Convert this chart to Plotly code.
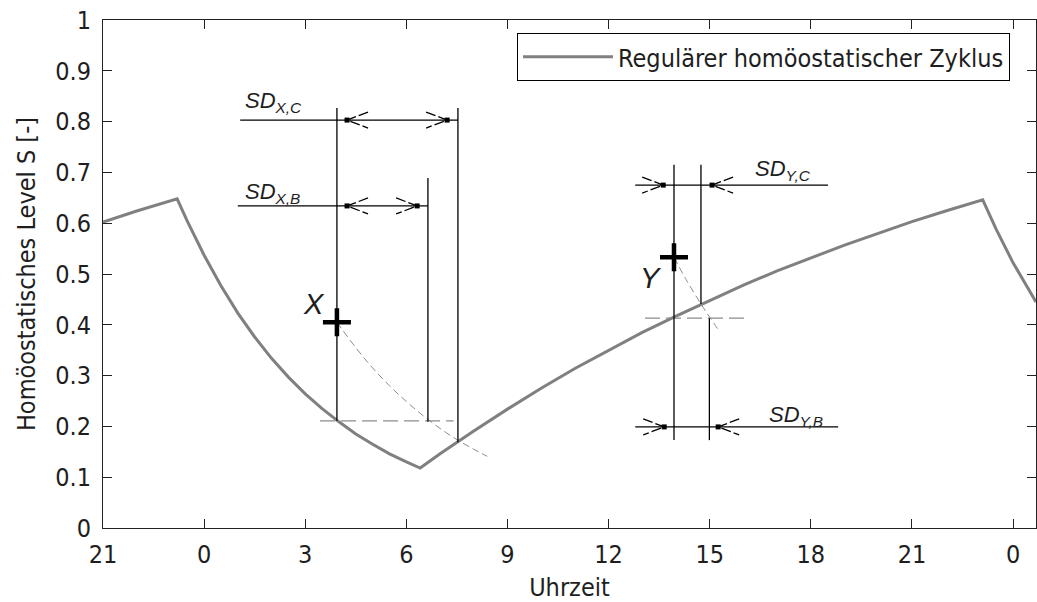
import plotly.graph_objects as go

# ---------------- data (hours: 24 = midnight, 48 = next midnight) ----------------
# regular homeostatic cycle, split into its wake / sleep phases
wake1_t = [21.0, 22.0, 23.2]
wake1_s = [0.602, 0.624, 0.648]
sleep1_t = [23.2, 23.5, 24.0, 24.5, 25.0, 25.5, 26.0, 26.5, 27.0, 27.5, 28.0, 28.5, 29.0, 29.5, 30.0, 30.41]
sleep1_s = [0.648, 0.604, 0.537, 0.477, 0.423, 0.376, 0.334, 0.297, 0.264, 0.235, 0.209, 0.185, 0.165, 0.146, 0.130, 0.118]
wake2_t = [30.41, 31.0, 32.0, 33.0, 34.0, 35.0, 36.0, 37.0, 38.0, 39.0, 40.0, 41.0, 42.0, 43.0, 44.0, 45.0, 46.0, 47.1]
wake2_s = [0.118, 0.146, 0.191, 0.234, 0.275, 0.314, 0.350, 0.385, 0.417, 0.448, 0.478, 0.506, 0.532, 0.557, 0.580, 0.603, 0.624, 0.646]
sleep2_t = [47.1, 47.5, 48.0, 48.68]
sleep2_s = [0.646, 0.588, 0.522, 0.445]

tick_vals = [21, 24, 27, 30, 33, 36, 39, 42, 45, 48]
tick_text = ["21", "0", "3", "6", "9", "12", "15", "18", "21", "0"]
y_ticks = [0, 0.1, 0.2, 0.3, 0.4, 0.5, 0.6, 0.7, 0.8, 0.9, 1]
y_tick_text = ["0", "0.1", "0.2", "0.3", "0.4", "0.5", "0.6", "0.7", "0.8", "0.9", "1"]

# marked states X and Y
pts_t = [27.94, 37.94]
pts_s = [0.405, 0.533]
pts_lbl = ["X", "Y"]
lbl_t = [27.26, 37.26]
lbl_s = [0.441, 0.492]

# dashed continuation curves (decay from X and from Y)
dashX_t = [27.94, 28.5, 29.0, 29.5, 30.0, 30.5, 31.0, 31.5, 32.0, 32.4]
dashX_s = [0.405, 0.355, 0.315, 0.280, 0.249, 0.221, 0.196, 0.174, 0.155, 0.141]
dashY_t = [37.94, 38.3, 38.74, 39.02, 39.3]
dashY_s = [0.533, 0.489, 0.441, 0.413, 0.386]

# dashed horizontal reference levels: (t0, t1, s)
dash_h_t0 = [27.44, 37.08]
dash_h_t1 = [31.40, 40.14]
dash_h_s = [0.211, 0.413]

# vertical marker lines: (t, s0, s1)
v_t = [27.94, 30.64, 31.53, 37.94, 38.74, 38.99]
v_s0 = [0.211, 0.209, 0.169, 0.173, 0.441, 0.173]
v_s1 = [0.827, 0.689, 0.827, 0.715, 0.715, 0.413]

# horizontal dimension lines: (t0, t1, s)
h_t0 = [25.07, 25.00, 36.79, 36.79]
h_t1 = [31.53, 30.64, 42.51, 42.81]
h_s = [0.803, 0.634, 0.675, 0.199]

# arrow tips: (t, s, direction: -1 points left, +1 points right)
arr_t = [28.24, 31.21, 28.24, 30.32, 37.62, 39.07, 37.65, 39.25]
arr_s = [0.803, 0.803, 0.634, 0.634, 0.675, 0.675, 0.199, 0.199]
arr_d = [-1, 1, -1, 1, 1, -1, 1, -1]

# SD labels
sd_text = ["SD<sub>X,C</sub>", "SD<sub>X,B</sub>", "SD<sub>Y,C</sub>", "SD<sub>Y,B</sub>"]
sd_t = [25.15, 25.15, 40.29, 40.70]
sd_s = [0.838, 0.660, 0.704, 0.221]

legend_name = "Regulärer homöostatischer Zyklus"

# ---------------- layout geometry ----------------
W, H = 1037, 602
ML, MR, MT, MB = 103, 1, 20, 74
x_range = [21, 48.68]
y_range = [0, 1]
pw = W - ML - MR
ph = H - MT - MB
hx = (x_range[1] - x_range[0]) / pw   # hours per pixel
hy = (y_range[1] - y_range[0]) / ph   # S per pixel

NARROW = "Liberation Sans Narrow, Arial Narrow, DejaVu Sans Condensed, sans-serif"
ARIAL = "Liberation Sans, Arial, sans-serif"
TXT = "#1e1e1e"

fig = go.Figure()

# main curve (phases joined at their turning points)
cx = wake1_t + sleep1_t[1:] + wake2_t[1:] + sleep2_t[1:]
cy = wake1_s + sleep1_s[1:] + wake2_s[1:] + sleep2_s[1:]
fig.add_trace(go.Scatter(x=cx, y=cy, mode="lines", name=legend_name,
                         line=dict(color="#808080", width=3), showlegend=True))

# dashed reference levels
hx_, hy_ = [], []
for a, b, s in zip(dash_h_t0, dash_h_t1, dash_h_s):
    hx_ += [a, b, None]
    hy_ += [s, s, None]
fig.add_trace(go.Scatter(x=hx_, y=hy_, mode="lines", showlegend=False,
                         line=dict(color="#8c8c8c", width=1.3, dash="15px,6px")))

# dashed decay continuations
for tt, ss in [(dashX_t, dashX_s), (dashY_t, dashY_s)]:
    fig.add_trace(go.Scatter(x=tt, y=ss, mode="lines", showlegend=False,
                             line=dict(color="#8c8c8c", width=1, dash="7px,4px",
                                       shape="spline")))

# vertical lines
vx, vy = [], []
for t, a, b in zip(v_t, v_s0, v_s1):
    vx += [t, t, None]
    vy += [a, b, None]
fig.add_trace(go.Scatter(x=vx, y=vy, mode="lines", showlegend=False,
                         line=dict(color="black", width=1.3)))

# horizontal dimension lines
hhx, hhy = [], []
for a, b, s in zip(h_t0, h_t1, h_s):
    hhx += [a, b, None]
    hhy += [s, s, None]
fig.add_trace(go.Scatter(x=hhx, y=hhy, mode="lines", showlegend=False,
                         line=dict(color="black", width=1.3)))

# arrow heads (open chevrons) + tip dots
ax_, ay_ = [], []
back_px, half_px = 21, 8
for t, s, d in zip(arr_t, arr_s, arr_d):
    tb = t - d * back_px * hx
    ax_ += [tb, t, tb, None]
    ay_ += [s + half_px * hy, s, s - half_px * hy, None]
fig.add_trace(go.Scatter(x=ax_, y=ay_, mode="lines", showlegend=False,
                         line=dict(color="black", width=1.3, dash="10px,3px")))
fig.add_trace(go.Scatter(x=arr_t, y=arr_s, mode="markers", showlegend=False,
                         marker=dict(symbol="square", size=5, color="black")))

# X / Y points
fig.add_trace(go.Scatter(x=pts_t, y=pts_s, mode="markers", showlegend=False,
                         marker=dict(symbol="cross-thin", size=20,
                                     line=dict(color="black", width=4.5))))

for txt, t, s in zip(pts_lbl, lbl_t, lbl_s):
    fig.add_annotation(x=t, y=s, xref="x", yref="y", text="<i>" + txt + "</i>",
                       showarrow=False, font=dict(family=ARIAL, size=29, color=TXT),
                       xanchor="center", yanchor="middle")

for txt, t, s in zip(sd_text, sd_t, sd_s):
    fig.add_annotation(x=t, y=s, xref="x", yref="y", text="<i>" + txt + "</i>",
                       showarrow=False, font=dict(family=ARIAL, size=22, color=TXT),
                       xanchor="left", yanchor="middle")

fig.update_layout(
    width=W, height=H,
    margin=dict(l=ML, r=MR, t=MT, b=MB, pad=0),
    paper_bgcolor="white", plot_bgcolor="white",
    font=dict(family=NARROW, size=25, color=TXT),
    showlegend=True,
    legend=dict(x=(517 - ML) / pw, y=(H - MB - 33) / ph, xanchor="left", yanchor="top",
                bgcolor="white", bordercolor="black", borderwidth=1,
                font=dict(family=NARROW, size=25, color=TXT),
                itemwidth=90, tracegroupgap=0),
    xaxis=dict(range=x_range, tickmode="array", tickvals=tick_vals, ticktext=tick_text,
               showgrid=False, zeroline=False, showline=True, linecolor="#222", linewidth=1,
               mirror="ticks", ticks="inside", ticklen=9, tickcolor="#222",
               ticklabelstandoff=4,
               title=dict(text="Uhrzeit", standoff=10,
                          font=dict(family=NARROW, size=25, color=TXT)),
               tickfont=dict(family=NARROW, size=25, color=TXT)),
    yaxis=dict(range=y_range, tickmode="array", tickvals=y_ticks, ticktext=y_tick_text,
               showgrid=False, zeroline=False, showline=True, linecolor="#222", linewidth=1,
               mirror="ticks", ticks="inside", ticklen=9, tickcolor="#222",
               ticklabelstandoff=6,
               title=dict(text="Homöostatisches Level S [-]", standoff=12,
                          font=dict(family=NARROW, size=25, color=TXT)),
               tickfont=dict(family=NARROW, size=25, color=TXT)),
)

fig.write_html("out.html")
